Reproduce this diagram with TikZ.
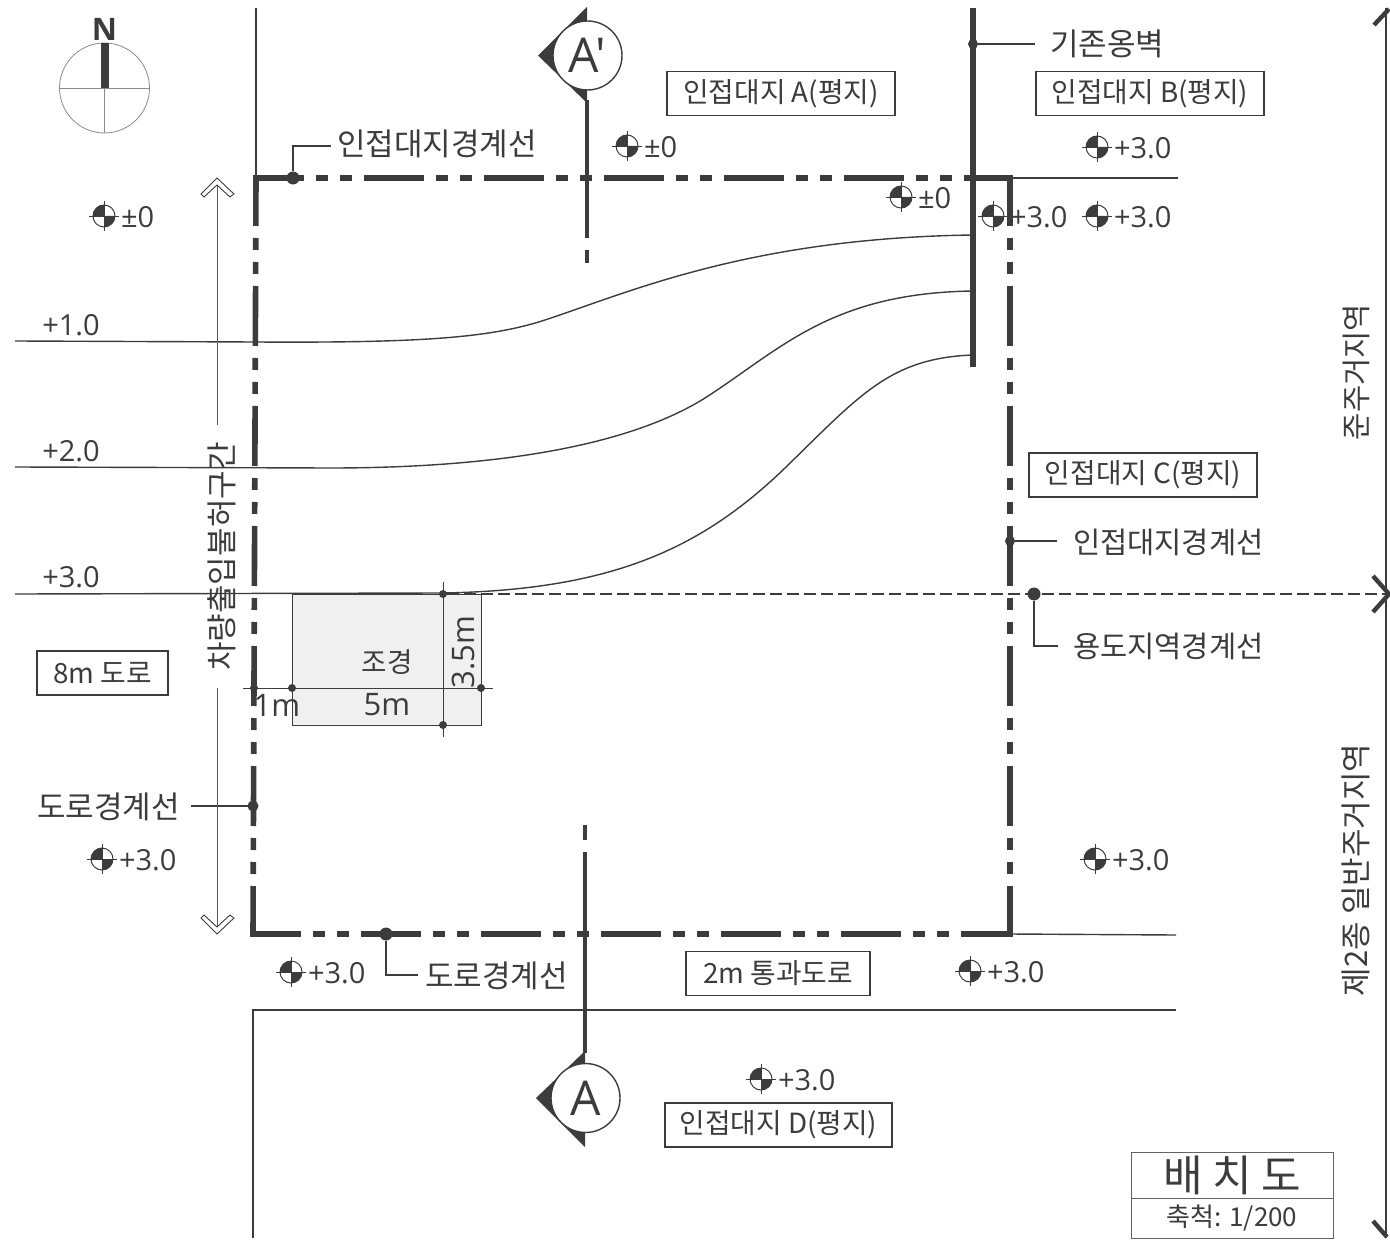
\documentclass[tikz,border=0pt]{standalone}
\usepackage{fontspec}
\setmainfont{Noto Sans CJK KR}
\newfontfamily\latn{Open Sans}
\definecolor{ink}{HTML}{3C3C3C}
\definecolor{landfill}{HTML}{F0F0F0}
\tikzset{
  x=0.5pt,y=-0.5pt,
  every node/.style={text=ink,inner sep=0pt,outer sep=0pt},
  thinline/.style={draw=ink,line width=0.7pt},
  bound/.style={draw=ink,line width=2.8pt,dash pattern=on 60pt*0.5 off 12pt*0.5 on 12pt*0.5 off 12pt*0.5 on 12pt*0.5 off 12pt*0.5,dash phase=6pt},
  label/.style={font=\fontsize{15.5pt}{17pt}\selectfont},
  labelb/.style={font=\fontsize{14.8pt}{17pt}\selectfont},
  levellab/.style={font=\latn\fontsize{14.5pt}{16pt}\selectfont,anchor=west},
  framed/.style={draw=ink,line width=0.55pt,fill=white,font=\fontsize{13.9pt}{16pt}\selectfont,minimum height=22pt,anchor=center},
  dotnode/.style={circle,fill=ink,minimum size=6.5pt},
  smalldot/.style={circle,fill=ink,minimum size=4pt},
  lead/.style={draw=ink,line width=0.6pt},
  cut/.style={draw=ink,line width=2pt},
  bubble/.style={circle,draw=ink,line width=0.7pt,fill=white,minimum size=34.5pt,font=\latn\fontsize{24pt}{26pt}\selectfont},
}
\newcommand{\lvl}[4]{% name, x, y, text
  \begin{scope}[shift={(#2,#3)}]
    \fill[ink] (0,0) -- (-11,0) arc[start angle=180,end angle=90,radius=5.5pt] -- cycle;
    \fill[ink] (0,0) -- (11,0) arc[start angle=0,end angle=-90,radius=5.5pt] -- cycle;
    \draw[ink,line width=0.5pt] (0,0) circle[radius=5.5pt];
    \draw[ink,line width=0.4pt] (-15,0) -- (15,0) (0,-15) -- (0,15);
  \end{scope}
  \node[levellab] (#1) at (#2+17,#3+1) {#4};
}
\begin{document}
\begin{tikzpicture}
\useasboundingbox (0,0) rectangle (1390,1240);
% thin site lines
\coordinate (roadTop) at (256,8);
\coordinate (cnrTL) at (256,178);
\coordinate (cnrTR) at (1010,178);
\coordinate (cnrBL) at (253,934);
\coordinate (cnrBR) at (1010,934);
\draw[thinline] (roadTop) -- (cnrTL);
\coordinate (adjR) at (1178,178);
\draw[thinline] (cnrTR) -- (adjR);
\coordinate (botR) at (1176,935);
\draw[thinline] (cnrBR) -- (botR);
\coordinate (lowR) at (1176,1010);
\coordinate (lowC) at (253,1010);
\coordinate (lowB) at (253,1238);
\draw[thinline] (lowR) -- (lowC) -- (lowB);
% contours
\coordinate (c1s) at (15,341);\coordinate (c2s) at (15,467);\coordinate (c3s) at (15,594);
\coordinate (c1e) at (973,235);\coordinate (c2e) at (973,291);\coordinate (c3e) at (973,355);
% landscape
\fill[landfill] (292,594) rectangle (481,725);
\draw[draw=ink,line width=0.5pt] (292,594) rectangle (481,725);
\draw[thinline] (c1s) -- (255,342) .. controls (420,343) and (490,338) .. (545,320) .. controls (630,292) and (750,238) .. (c1e);
\draw[thinline] (c2s) -- (330,468) .. controls (500,468) and (630,445) .. (705,398) .. controls (780,350) and (830,293) .. (c2e);
\draw[thinline] (c3s) -- (443,593) .. controls (610,590) and (700,550) .. (785,468) .. controls (860,395) and (890,358) .. (c3e);
% zone line
\node[smalldot] (dA) at (443,594) {};
\node[smalldot] (dB) at (443,725) {};
\node[smalldot] (dC) at (292,688) {};
\node[smalldot] (dD) at (481,688) {};
\coordinate (zoneE) at (1386,594);
\draw[draw=ink,line width=0.55pt,dash pattern=on 6pt off 2.5pt] (dA) -- (zoneE);
\coordinate (hL) at (243,688);\coordinate (hR) at (493,688);
\coordinate (vT) at (443,582);\coordinate (vB) at (443,737);
\draw[draw=ink,line width=0.5pt] (hL) -- (hR) (vT) -- (vB);
\node[smalldot] (dE) at (254,688) {};
% boundary
\draw[bound] (cnrTL) -- (cnrTR);
\draw[bound] (cnrTL) -- (cnrBL);
\draw[bound] (cnrTR) -- (cnrBR);
\draw[bound] (cnrBL) -- (cnrBR);
\fill[ink] (253,175) rectangle (258,181);
\fill[ink] (1007,175) rectangle (1013,181);
\fill[ink] (250,931) rectangle (256,937);
\fill[ink] (1007,931) rectangle (1013,937);
% wall
\coordinate (wT) at (973,8);\coordinate (wB) at (973,367);
\draw[draw=ink,line width=2.6pt] (wT) -- (wB);
% landscape labels
\node[label] (lm1) at (277,705) {\latn 1m};
\node[label] (lm5) at (387,705) {\latn 5m};
\node[label,rotate=90] (lm35) at (463,652) {\latn 3.5m};
\node[font=\fontsize{13.8pt}{15pt}\selectfont] (lsc) at (387,662) {조경};
% section lines
\fill[ink] (587,7) -- (538,55.5) -- (587,103) -- cycle;
\node[bubble] (secB) at (587.5,55.5) {A'};
\coordinate (s1a) at (587,100);\coordinate (s1b) at (587,238);\coordinate (s1c) at (587,250);\coordinate (s1d) at (587,263);
\draw[cut] (s1a) -- (s1b);\draw[cut] (s1c) -- (s1d);
\fill[ink] (585,1051) -- (536,1098) -- (585,1147) -- cycle;
\node[bubble] (secA) at (585.5,1098) {A};
\coordinate (s2a) at (585,825);\coordinate (s2b) at (585,840);\coordinate (s2c) at (585,852);\coordinate (s2d) at (585,1053);
\draw[cut] (s2a) -- (s2b);\draw[cut] (s2c) -- (s2d);
% compass
\draw[draw=ink!60,line width=0.4pt] (104.5,88) circle[radius=22.5pt];
\draw[draw=ink!60,line width=0.4pt] (59.5,88) -- (149.5,88) (104.5,43) -- (104.5,133);
\fill[ink] (100.5,43) rectangle (108.5,88);
\node[font=\latn\bfseries\fontsize{15.5pt}{17pt}\selectfont] (north) at (104.5,29) {N};
% level marks
\lvl{l1}{104}{216}{±0}
\lvl{l2}{627}{146}{±0}
\lvl{l3}{1097}{147}{+3.0}
\lvl{l4}{901}{197}{±0}
\lvl{l5}{993}{216}{+3.0}
\lvl{l6}{1097}{216}{+3.0}
\lvl{l7}{102}{859}{+3.0}
\lvl{l8}{1095}{859}{+3.0}
\lvl{l9}{291}{972}{+3.0}
\lvl{l10}{970}{971}{+3.0}
\lvl{l11}{761}{1079}{+3.0}
% contour labels
\node[levellab,anchor=center] (t1) at (71,325) {+1.0};
\node[levellab,anchor=center] (t2) at (71,451) {+2.0};
\node[levellab,anchor=center] (t3) at (71,577) {+3.0};
% framed labels
\node[framed,minimum width=114pt] (bA) at (781,93.5) {인접대지 A(평지)};
\node[framed,minimum width=114pt] (bB) at (1150,93.5) {인접대지 B(평지)};
\node[framed,minimum width=114pt] (bC) at (1143,475) {인접대지 C(평지)};
\node[framed,minimum width=113.5pt] (bD) at (778.5,1125) {인접대지 D(평지)};
\node[framed,minimum width=65.5pt] (b8) at (102.5,673) {8m 도로};
\node[framed,minimum width=92pt] (b2) at (778,973.5) {2m 통과도로};
% leaders
\node[label,anchor=west] (tAdj1) at (337,144) {인접대지경계선};
\node[dotnode] (dAdj1) at (293,178) {};
\coordinate (kAdj1) at (293,146);\coordinate (eAdj1) at (331,146);
\draw[lead] (dAdj1) -- (kAdj1) -- (eAdj1);
\node[label,anchor=west] (tWall) at (1050,44) {기존옹벽};
\node[smalldot,minimum size=5pt] (dWall) at (973,44) {};
\coordinate (eWall) at (1035,44);
\draw[lead] (dWall) -- (eWall);
\node[labelb,anchor=west] (tAdj2) at (1073,542) {인접대지경계선};
\node[smalldot,minimum size=5pt] (dAdj2) at (1010,541) {};
\coordinate (eAdj2) at (1057,541);
\draw[lead] (dAdj2) -- (eAdj2);
\node[labelb,anchor=west] (tZone) at (1073,646) {용도지역경계선};
\node[dotnode] (dZone) at (1034,594) {};
\coordinate (kZone) at (1034,646);\coordinate (eZone) at (1058,646);
\draw[lead] (dZone) -- (kZone) -- (eZone);
\node[label,anchor=west] (tRoad1) at (37,807) {도로경계선};
\node[smalldot,minimum size=5.5pt] (dRoad1) at (253,806) {};
\coordinate (eRoad1) at (191,806);
\draw[lead] (dRoad1) -- (eRoad1);
\node[label,anchor=west] (tRoad2) at (425,976) {도로경계선};
\node[dotnode] (dRoad2) at (386,934) {};
\coordinate (kRoad2) at (386,975);\coordinate (eRoad2) at (418,975);
\draw[lead] (dRoad2) -- (kRoad2) -- (eRoad2);
% vehicle no-entry span
\node[label,rotate=90] (tGate) at (222,556.5) {차량출입불허구간};
\coordinate (g1) at (217,184);\coordinate (g2) at (217,425);\coordinate (g3) at (217,688);\coordinate (g4) at (217,930);
\draw[draw=ink!85,line width=0.45pt] (g1) -- (g2) (g3) -- (g4);
\draw[draw=ink,line width=0.45pt,fill=white,line join=miter] (217,178) -- (234,194) -- (230,197) -- (217,185) -- (204,197) -- (201,194) -- cycle;
\draw[draw=ink,line width=0.45pt,fill=white,line join=miter] (217,934) -- (234,918) -- (230,915) -- (217,927) -- (204,915) -- (201,918) -- cycle;
% zone span
\coordinate (zT) at (1386,8);\coordinate (zB) at (1386,1238);
\draw[draw=ink,line width=1.4pt] (zT) -- (zB);
\draw[draw=ink,line width=2.2pt] (1374,25) -- (1389,9) (1373,576) -- (1389,594) -- (1373,612) (1373,1221) -- (1387,1237);
% zones
\node[labelb,rotate=90] (zn1) at (1356,372) {준주거지역};
\node[label,rotate=90] (zn2) at (1356,870) {제2종 일반주거지역};
% title
\coordinate (ttl1) at (1131,1152);\coordinate (ttl2) at (1333,1238);
\draw[draw=ink!80,line width=0.5pt] (ttl1) rectangle (ttl2);
\coordinate (ttlL) at (1131,1198);\coordinate (ttlR) at (1333,1198);
\draw[draw=ink!80,line width=0.5pt] (ttlL) -- (ttlR);
\node[font=\fontsize{21.5pt}{23pt}\selectfont] (ttlA) at (1232,1175) {배 치 도};
\node[font=\fontsize{13pt}{14pt}\selectfont] (ttlB) at (1232,1218) {축척: 1/200};
\end{tikzpicture}
\end{document}
